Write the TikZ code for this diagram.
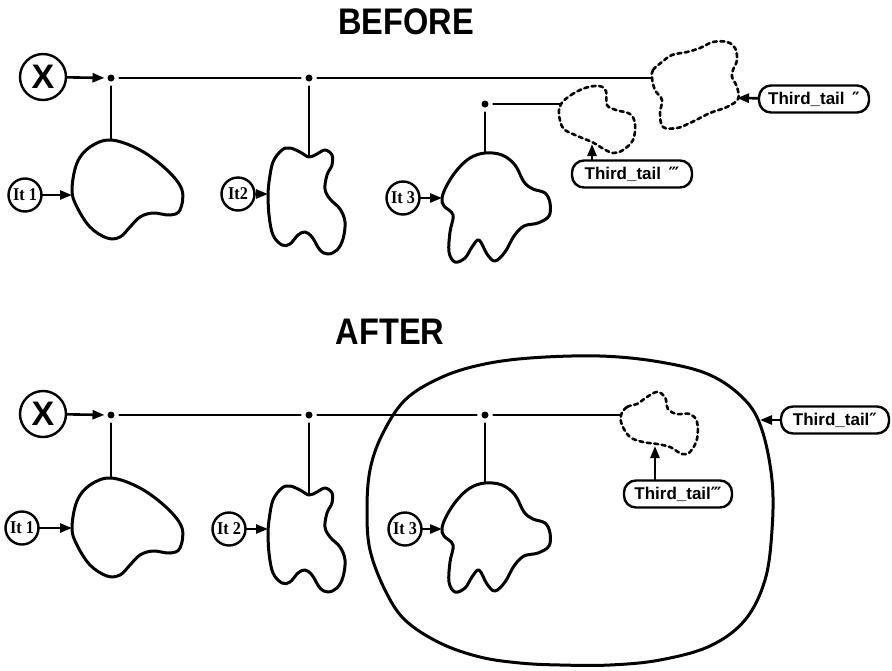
\documentclass[tikz,border=0pt]{standalone}
\usepackage{fontspec}
\setmainfont{Liberation Sans}
\newfontfamily\titlefont[FakeStretch=0.88]{Liberation Sans}
\newfontfamily\lblfont{Liberation Sans}
\newfontfamily\itfont[FakeStretch=0.9]{Liberation Serif}
\newfontfamily\primefont{DejaVu Sans}
\usetikzlibrary{arrows.meta}
\newcommand\blobOne{plot[smooth cycle, tension=0.6] coordinates {(111,140) (140,150) (167,170) (182,190) (180,210) (170,215) (153,213) (140,217) (130,227) (120,237) (107,238) (90,227) (77,207) (72,190) (77,163) (90,147)}}
\newcommand\blobTwo{plot[smooth cycle, tension=0.6] coordinates {(309,157) (300,152) (290,148) (282,150) (273,162) (269,182) (268,192) (269,215) (273,235) (282,245) (290,244) (298,235) (305,232) (312,237) (320,250) (328,254) (337,250) (343,239) (345,222) (340,209) (330,199) (325,189) (327,175) (332,165) (332,155) (325,150) (317,154)}}
\newcommand\blobThree{plot[smooth cycle, tension=0.6] coordinates {(485,153) (502,155) (515,165) (524,182) (533,189) (545,193) (550,203) (549,216) (538,223) (524,226) (514,236) (505,252) (495,261) (487,254) (479,240) (472,247) (465,258) (455,262) (449,252) (450,232) (453,215) (444,206) (442,198) (447,185) (457,170) (470,158)}}
\begin{document}
\begin{tikzpicture}[x=1pt,y=-1pt,
  line width=2.6pt, line join=round, line cap=round,
  blob/.style={line width=3pt},
  cloudline/.style={line width=2.6pt, dash pattern=on 4pt off 3.5pt},
  dotn/.style={circle, fill=black, inner sep=0pt, minimum size=7pt, outer sep=5pt},
  xcirc/.style={circle, draw, line width=2.4pt, minimum size=46pt, inner sep=0pt, font=\fontsize{34}{36}\selectfont\bfseries},
  itcirc/.style={circle, draw, line width=2.4pt, minimum size=33pt, inner sep=0pt, font=\itfont\fontsize{18}{19}\selectfont\bfseries},
  tlabel/.style={draw, rounded corners=12pt, line width=2.4pt, inner sep=0pt, minimum height=27pt, font=\lblfont\fontsize{17}{18}\selectfont\bfseries},
  arr/.style={-{Triangle[length=12pt,width=9pt]}},
  ttl/.style={font=\titlefont\fontsize{37}{40}\selectfont\bfseries, inner sep=0pt}
]
\useasboundingbox (0,0) rectangle (892,670);

% ---------------- BEFORE ----------------
\node[ttl] (tb) at (406,22) {BEFORE};
\node[xcirc] (xb) at (43,77) {X};
\node[dotn] (b1) at (111,78) {};
\node[dotn] (b2) at (309,78) {};
\node[dotn] (b3) at (485,104) {};
\coordinate (bc1) at (111,140);
\coordinate (bc2) at (309,157);
\coordinate (bc3) at (485,153);
\coordinate (bL) at (652,78);
\coordinate (bS) at (561,104);

\draw[arr, shorten >=-2pt] (xb) -- (b1);
\draw (b1) -- (b2);
\draw (b2) -- (bL);
\draw (b1) -- (bc1);
\draw (b2) -- (bc2);
\draw (b3) -- (bS);
\draw (b3) -- (bc3);

\draw[blob] \blobOne;
\draw[blob] \blobTwo;
\draw[blob] \blobThree;

\draw[cloudline] plot[smooth cycle, tension=0.6] coordinates {(561,104) (571,95) (585,88) (599,86) (606,91) (607,105) (616,110) (630,114) (635,124) (633,140) (623,150) (613,153) (602,148) (592,142) (575,135) (563,128) (559,114)};
\draw[cloudline] plot[smooth cycle, tension=0.6] coordinates {(652,78) (653,70) (662,62) (672,55) (687,52) (700,48) (713,42) (727,42) (735,48) (737,60) (733,70) (732,77) (737,87) (738,99) (727,107) (710,113) (690,123) (677,128) (663,127) (660,113) (662,100) (655,90)};

\node[itcirc] (bi1) at (25,195) {It 1};
\node[itcirc] (bi2) at (238,194) {It2};
\node[itcirc] (bi3) at (403,198) {It 3};
\coordinate (bt1) at (72,195);
\coordinate (bt2) at (268,194);
\coordinate (bt3) at (442,198);
\draw[arr] (bi1) -- (bt1);
\draw[arr] (bi2) -- (bt2);
\draw[arr] (bi3) -- (bt3);

\node[tlabel, minimum width=110pt] (bl2) at (814,99) {Third\_tail \,{\primefont″}};
\coordinate (bct) at (737,98);
\draw[arr] (bl2) -- (bct);
\node[tlabel, minimum width=120pt] (bl3) at (632,174) {Third\_tail \,{\primefont‴}};
\coordinate (bst) at (592,144);
\draw[arr] (bl3.north -| bst) -- (bst);

% ---------------- AFTER ----------------
\node[ttl] (ta) at (390,332) {AFTER};
\draw[blob] plot[smooth cycle, tension=0.6] coordinates {(530,358) (600,356) (660,362) (710,375) (745,400) (762,430) (772,480) (772,530) (765,580) (745,620) (710,646) (660,660) (610,665) (560,665) (520,663) (480,657) (440,643) (405,620) (385,590) (370,550) (367,510) (370,470) (382,435) (405,400) (440,378) (480,365)};

\node[xcirc] (xa) at (43,414) {X};
\node[dotn] (a1) at (111,415) {};
\node[dotn] (a2) at (309,415) {};
\node[dotn] (a3) at (485,415) {};
\coordinate (ac1) at (111,478);
\coordinate (ac2) at (309,495);
\coordinate (ac3) at (485,483);
\coordinate (aS) at (621,415);

\draw[arr, shorten >=-2pt] (xa) -- (a1);
\draw (a1) -- (a2);
\draw (a2) -- (a3);
\draw (a3) -- (aS);
\draw (a1) -- (ac1);
\draw (a2) -- (ac2);
\draw (a3) -- (ac3);

\draw[blob, shift={(0,338)}] \blobOne;
\draw[blob, shift={(0,338)}] \blobTwo;
\draw[blob, shift={(0,330)}] \blobThree;

\draw[cloudline] plot[smooth cycle, tension=0.6] coordinates {(621,415) (627,407) (637,404) (647,397) (657,392) (665,397) (668,409) (677,414) (690,414) (697,422) (697,439) (690,452) (682,454) (670,447) (657,444) (643,442) (630,437) (622,425)};

\node[itcirc] (ai1) at (22,528) {It 1};
\node[itcirc] (ai2) at (229,529) {It 2};
\node[itcirc] (ai3) at (405,529) {It 3};
\coordinate (at1) at (72,528);
\coordinate (at2) at (268,529);
\coordinate (at3) at (442,529);
\draw[arr] (ai1) -- (at1);
\draw[arr] (ai2) -- (at2);
\draw[arr] (ai3) -- (at3);

\node[tlabel, minimum width=108pt] (al2) at (835,420) {Third\_tail{\primefont″}};
\coordinate (act) at (760,420);
\draw[arr] (al2) -- (act);
\node[tlabel, minimum width=108pt] (al3) at (678,494) {Third\_tail{\primefont‴}};
\coordinate (ast) at (655,446);
\draw[arr] (al3.north -| ast) -- (ast);
\end{tikzpicture}
\end{document}
